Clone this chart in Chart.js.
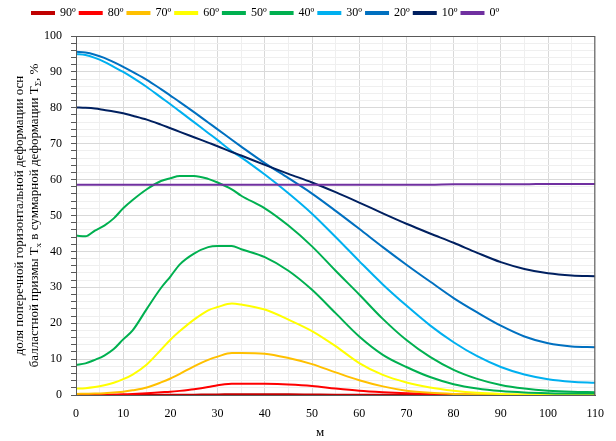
<!DOCTYPE html>
<html>
<head>
<meta charset="utf-8">
<script src="https://cdn.jsdelivr.net/npm/chart.js@4.4.1/dist/chart.umd.min.js"></script>
<style>
  html, body { margin: 0; padding: 0; background: #fff; }
  #wrap { width: 616px; height: 441px; }
</style>
</head>
<body>
<div id="wrap"><canvas id="chart"></canvas></div>
<script>
// distances along the track, m
const xs = [0, 2, 4, 6, 8, 10, 12, 15, 18, 20, 22, 25, 28, 30, 33, 35, 40, 45, 50, 55, 60, 65, 70, 75, 80, 85, 90, 95, 100, 105, 110];

const labels = ['90º', '80º', '70º', '60º', '50º', '40º', '30º', '20º', '10º', '0º'];
const colors = ['#c00000', '#ff0000', '#ffc000', '#ffff00', '#00b050', '#00b050', '#00b0f0', '#0070c0', '#002060', '#7030a0'];

const s90 = [0, 0, 0, 0, 0, 0, 0, 0, 0.05, 0.05, 0.1, 0.1, 0.15, 0.15, 0.2, 0.2, 0.2, 0.2, 0.15, 0.1, 0.1, 0.05, 0.05, 0, 0, 0, 0, 0, 0, 0, 0];
const s80 = [0, 0, 0.05, 0.1, 0.15, 0.2, 0.3, 0.5, 0.75, 0.9, 1.15, 1.6, 2.2, 2.7, 3.1, 3.15, 3.1, 2.9, 2.5, 1.8, 1.2, 0.8, 0.5, 0.3, 0.15, 0.1, 0.05, 0, 0, 0, 0];
const s70 = [0.3, 0.35, 0.4, 0.5, 0.7, 0.9, 1.3, 2.1, 3.5, 4.6, 5.9, 8.0, 9.8, 10.7, 11.7, 11.7, 11.5, 10.3, 8.6, 6.3, 4.1, 2.4, 1.2, 0.6, 0.3, 0.15, 0.1, 0.05, 0, 0, 0];
const s60 = [1.8, 1.9, 2.2, 2.7, 3.4, 4.4, 5.7, 8.5, 12.6, 15.4, 17.8, 21.0, 23.6, 24.5, 25.5, 25.2, 23.8, 21.0, 17.8, 13.6, 8.9, 5.6, 3.5, 2.1, 1.2, 0.6, 0.3, 0.15, 0.1, 0.05, 0];
const s50 = [8.4, 8.8, 9.8, 11.0, 12.8, 15.5, 18.0, 24.0, 29.8, 33.0, 36.4, 39.4, 41.2, 41.5, 41.5, 40.6, 38.4, 34.6, 29.3, 22.8, 16.3, 11.2, 7.8, 5.0, 3.0, 1.8, 1.1, 0.7, 0.5, 0.4, 0.4];
const s40 = [44.4, 44.2, 45.8, 47.2, 49.2, 52.0, 54.3, 57.3, 59.6, 60.4, 61.0, 61.0, 60.2, 59.2, 57.3, 55.5, 52.0, 47.2, 41.4, 34.6, 28.0, 21.2, 15.3, 10.6, 7.0, 4.5, 2.8, 1.8, 1.2, 0.9, 0.8];
const s30 = [95.0, 94.7, 93.9, 92.8, 91.4, 90.0, 88.4, 85.8, 82.9, 81.0, 79.0, 76.0, 73.0, 71.0, 67.9, 66.2, 61.4, 56.2, 50.5, 44.0, 37.3, 30.8, 24.9, 19.4, 14.7, 10.8, 7.8, 5.7, 4.4, 3.7, 3.4];
const s20 = [95.6, 95.4, 94.8, 93.9, 92.7, 91.4, 90.0, 87.8, 85.2, 83.4, 81.6, 78.8, 75.9, 74.0, 71.1, 69.2, 64.6, 60.4, 56.1, 51.3, 46.3, 41.2, 36.3, 31.6, 27.0, 23.0, 19.3, 16.3, 14.4, 13.5, 13.3];
const s10 = [80.1, 80.0, 79.8, 79.4, 79.0, 78.5, 77.8, 76.7, 75.3, 74.3, 73.3, 71.8, 70.3, 69.3, 67.7, 66.7, 64.1, 61.6, 59.2, 56.5, 53.6, 50.6, 47.7, 45.0, 42.4, 39.6, 37.0, 35.1, 33.9, 33.3, 33.1];
const s0 = [58.6, 58.6, 58.6, 58.6, 58.6, 58.6, 58.6, 58.6, 58.6, 58.6, 58.6, 58.6, 58.6, 58.6, 58.6, 58.6, 58.6, 58.6, 58.6, 58.6, 58.6, 58.6, 58.6, 58.6, 58.7, 58.7, 58.7, 58.7, 58.8, 58.8, 58.8];

const series = [s90, s80, s70, s60, s50, s40, s30, s20, s10, s0];

const font = "'Liberation Serif', 'Times New Roman', serif";

// a little extra room under the legend
const legendGap = {
  id: 'legendGap',
  beforeInit(chart) {
    const fit = chart.legend.fit;
    chart.legend.fit = function () {
      fit.call(this);
      this.height += 7;
    };
  }
};

// axis titles with subscripts, drawn on the canvas
const axisTitles = {
  id: 'axisTitles',
  afterDraw(chart) {
    const c = chart.ctx;
    const area = chart.chartArea;
    c.save();
    c.fillStyle = '#000';
    c.textBaseline = 'middle';

    function richLine(parts, x, yMid) {
      c.save();
      c.translate(x, yMid);
      c.rotate(-Math.PI / 2);
      let total = 0;
      parts.forEach(p => {
        c.font = (p.sub ? '9px ' : '13px ') + font;
        total += c.measureText(p.t).width;
      });
      let cx = -total / 2;
      parts.forEach(p => {
        c.font = (p.sub ? '9px ' : '13px ') + font;
        c.textAlign = 'left';
        c.fillText(p.t, cx, p.sub ? 4 : 0);
        cx += c.measureText(p.t).width;
      });
      c.restore();
    }
    const mid = (area.top + area.bottom) / 2;
    richLine([{ t: 'доля поперечной горизонтальной деформации осн' }], 20, mid);
    richLine([{ t: 'балластной призмы T' }, { t: 'x', sub: true }, { t: ' в суммарной деформации T' }, { t: 'Σ', sub: true }, { t: ', %' }], 35, mid);

    c.font = '13px ' + font;
    c.textAlign = 'center';
    c.fillText('м', 320, 433);

    // plot frame
    c.strokeStyle = '#595959';
    c.lineWidth = 1;
    c.strokeRect(area.left + 0.5, area.top + 0.5, area.right - area.left - 1, area.bottom - area.top);
    c.restore();
  }
};

new Chart(document.getElementById('chart'), {
  type: 'line',
  data: {
    datasets: series.map((s, i) => ({
      label: labels[i],
      data: s.map((v, j) => ({ x: xs[j], y: v })),
      borderColor: colors[i],
      backgroundColor: colors[i],
      borderWidth: 2,
      pointRadius: 0,
      cubicInterpolationMode: 'monotone',
      order: series.length - 1 - i
    }))
  },
  options: {
    responsive: true,
    maintainAspectRatio: false,
    animation: false,
    events: [],
    layout: { padding: { left: 28, right: 16, top: 3, bottom: 0 } },
    plugins: {
      legend: {
        display: true,
        align: 'start',
        labels: {
          boxWidth: 22,
          boxHeight: 2,
          padding: 4,
          color: '#000',
          font: { family: font, size: 12 },
          sort: (a, b) => a.datasetIndex - b.datasetIndex
        }
      },
      tooltip: { enabled: false }
    },
    scales: {
      x: {
        type: 'linear',
        min: 0,
        max: 110,
        ticks: {
          stepSize: 5,
          autoSkip: false,
          maxTicksLimit: 100,
          maxRotation: 0,
          minRotation: 0,
          padding: 12,
          color: '#000',
          font: { family: font, size: 12 },
          callback: v => (v % 10 === 0 ? v : '')
        },
        grid: {
          drawTicks: false,
          color: ctx => (ctx.tick && ctx.tick.value % 10 === 0 ? '#d9d9d9' : '#efefef')
        },
        border: { color: '#595959' },
        afterFit: scale => { scale.height = 46; }
      },
      y: {
        min: 0,
        max: 100,
        ticks: {
          stepSize: 2,
          autoSkip: false,
          maxTicksLimit: 100,
          padding: 9,
          color: '#000',
          font: { family: font, size: 12 },
          callback: v => (v % 10 === 0 ? v : '')
        },
        grid: {
          tickLength: 5,
          tickColor: '#595959',
          color: ctx => (ctx.tick && ctx.tick.value % 10 === 0 ? '#d9d9d9' : '#efefef')
        },
        border: { color: '#404040' },
        afterFit: scale => { scale.width = 48; }
      }
    }
  },
  plugins: [legendGap, axisTitles]
});
</script>
</body>
</html>
